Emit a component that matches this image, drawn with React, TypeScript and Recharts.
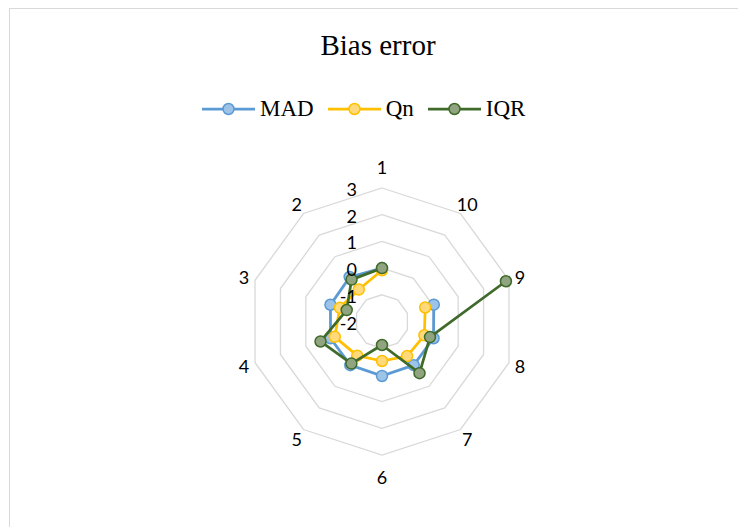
import React from 'react';
import { RadarChart, Radar, PolarGrid, PolarAngleAxis, PolarRadiusAxis } from 'recharts';

const categories = ['1', '2', '3', '4', '5', '6', '7', '8', '9', '10'];
const madValues = [0.0, 0.06, 0.03, 0.03, 0.02, 0.04, 0.02, 0.03, 0.04, null];
const qnValues = [-0.08, -0.52, -0.34, -0.14, -0.42, -0.52, -0.4, -0.33, -0.3, null];
const iqrValues = [0.0, -0.06, -0.61, 0.42, -0.05, -1.12, 0.39, -0.11, 2.88, null];
const radiusTicks = [-2, -1, 0, 1, 2, 3];

const SERIES = [
  { key: 'MAD', line: '#5b9bd5', dot: '#9dc3e6' },
  { key: 'Qn', line: '#ffc000', dot: '#ffd97a' },
  { key: 'IQR', line: '#3f6a2a', dot: '#8fa47f' },
];

const W = 737;
const H = 518;
const CX = 373;
const CY = 313.5;
const R = 133.5;

// Excel runs the categories counter-clockwise; recharts runs clockwise, so feed them as 1, 10, 9, ... 2
const displayOrder = [0, ...categories.map((_, i) => i).slice(1).reverse()];
const data = displayOrder.map((i) => ({
  cat: categories[i],
  MAD: madValues[i],
  Qn: qnValues[i],
  IQR: iqrValues[i],
}));

const labelFont = 'Lato, "Open Sans", sans-serif';

const AngleTick = (props: any) => {
  const { x, y, payload } = props;
  const dx = x - CX;
  const dy = y - CY;
  const len = Math.hypot(dx, dy) || 1;
  const dist = Math.abs(dy / len) > 0.99 ? 155 : 145;
  return (
    <text
      x={CX + (dx / len) * dist}
      y={CY + (dy / len) * dist}
      textAnchor="middle"
      dominantBaseline="central"
      fontFamily={labelFont}
      fontSize={18}
      fill="#000"
    >
      {payload.value}
    </text>
  );
};

const RadiusTick = (props: any) => {
  const { x, y, payload } = props;
  return (
    <text
      x={x - 25}
      y={y + 1}
      textAnchor="end"
      dominantBaseline="central"
      fontFamily={labelFont}
      fontSize={18}
      fill="#000"
    >
      {payload.value}
    </text>
  );
};

// line in the original category order, broken at empty categories, plus markers
const seriesShape = (key: string, line: string, fill: string) => (props: any) => {
  const byCat: Record<string, any> = {};
  (props.points || []).forEach((p: any) => {
    const c = p.payload?.cat ?? p.name;
    const v = p.payload?.[key];
    if (v != null && isFinite(p.x) && isFinite(p.y)) byCat[c] = p;
  });
  let d = '';
  let prevOk = false;
  categories.forEach((c) => {
    const p = byCat[c];
    if (p) {
      d += `${prevOk ? 'L' : 'M'}${p.x},${p.y}`;
      prevOk = true;
    } else {
      prevOk = false;
    }
  });
  const first = byCat[categories[0]];
  const last = byCat[categories[categories.length - 1]];
  if (first && last) d += `L${first.x},${first.y}`;
  const pts = categories.map((c) => byCat[c]).filter(Boolean);
  return (
    <g>
      <path d={d} fill="none" stroke={line} strokeWidth={2.75} strokeLinejoin="round" />
      {pts.map((p: any, i: number) => (
        <circle key={i} cx={p.x} cy={p.y} r={5.5} fill={fill} stroke={line} strokeWidth={1.5} />
      ))}
    </g>
  );
};

function LegendRow() {
  return (
    <div
      style={{
        position: 'absolute',
        left: 192,
        top: 88,
        height: 24,
        display: 'flex',
        alignItems: 'center',
        fontFamily: '"Liberation Serif", "Times New Roman", serif',
        fontSize: 23,
        color: '#000',
      }}
    >
      {SERIES.map((s, i) => (
        <div key={s.key} style={{ display: 'flex', alignItems: 'center', marginRight: i < SERIES.length - 1 ? 14 : 0 }}>
          <svg width={53} height={14}>
            <line x1={0} y1={7} x2={53} y2={7} stroke={s.line} strokeWidth={2.75} />
            <circle cx={26.5} cy={7} r={5.5} fill={s.dot} stroke={s.line} strokeWidth={1.5} />
          </svg>
          <span style={{ marginLeft: 5, lineHeight: '24px' }}>{s.key}</span>
        </div>
      ))}
    </div>
  );
}

export default function App() {
  return (
    <div
      style={{
        position: 'relative',
        width: W,
        height: H,
        marginLeft: 1,
        borderTop: '1px solid #d9d9d9',
        borderLeft: '1px solid #d9d9d9',
        background: '#fff',
        overflow: 'hidden',
      }}
    >
      <div
        style={{
          position: 'absolute',
          left: 0,
          width: W - 1,
          top: 22,
          textAlign: 'center',
          fontFamily: '"Liberation Serif", "Times New Roman", serif',
          fontSize: 29,
          lineHeight: '29px',
          color: '#000',
        }}
      >
        Bias error
      </div>
      <LegendRow />
      <div style={{ position: 'absolute', left: -1, top: -1 }}>
        <RadarChart
          width={W}
          height={H}
          data={data}
          cx={CX}
          cy={CY}
          outerRadius={R}
          startAngle={90}
          endAngle={-270}
          margin={{ top: 0, right: 0, bottom: 0, left: 0 }}
        >
          <PolarGrid gridType="polygon" radialLines={false} stroke="#d9d9d9" strokeWidth={1.3} />
          <PolarAngleAxis dataKey="cat" tick={AngleTick} tickLine={false} axisLine={false} />
          <PolarRadiusAxis
            angle={90}
            domain={[-2, 3]}
            ticks={radiusTicks as any}
            tickCount={6}
            tick={RadiusTick}
            tickLine={false}
            axisLine={false}
          />
          {SERIES.map((s) => (
            <Radar
              key={s.key}
              name={s.key}
              dataKey={s.key}
              stroke={s.line}
              fill="none"
              fillOpacity={0}
              shape={seriesShape(s.key, s.line, s.dot)}
              dot={false}
              isAnimationActive={false}
            />
          ))}
        </RadarChart>
      </div>
    </div>
  );
}
